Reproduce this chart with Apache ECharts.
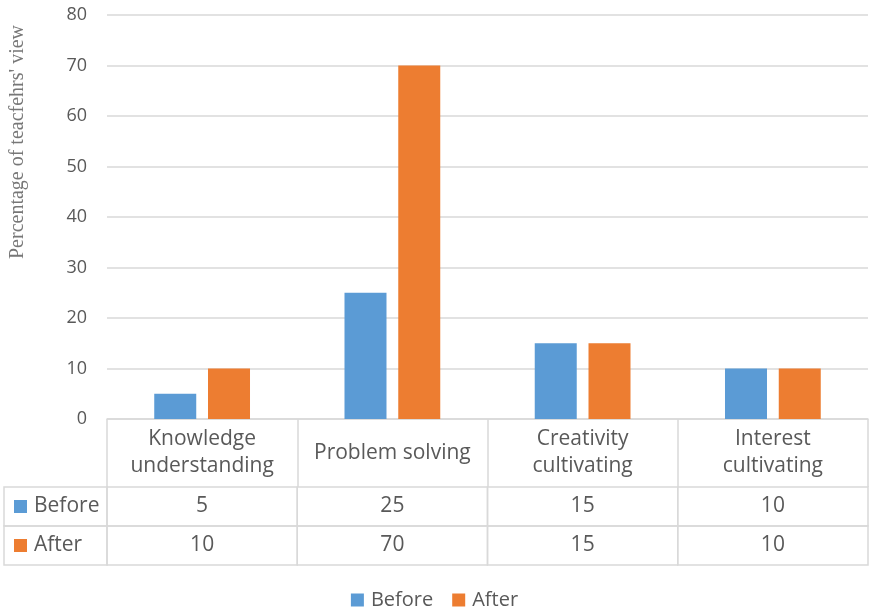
<!DOCTYPE html>
<html>
<head>
<meta charset="utf-8">
<script src="https://cdn.jsdelivr.net/npm/echarts@6/dist/echarts.min.js"></script>
<style>
  html, body { margin: 0; padding: 0; background: #fff; }
  #chart { width: 869px; height: 615px; }
</style>
</head>
<body>
<div id="chart"></div>
<script>
// Categories (header row of the data table)
const categories = [
  'Knowledge\nunderstanding',
  'Problem solving',
  'Creativity\ncultivating',
  'Interest\ncultivating'
];
// Series values
const seriesNames = ['Before', 'After'];
const beforeValues = [5, 25, 15, 10];
const afterValues = [10, 70, 15, 10];
// Value axis ticks
const yTicks = [0, 10, 20, 30, 40, 50, 60, 70, 80];
const yAxisTitle = "Percentage of teacfehrs' view";

const colors = ['#5b9bd5', '#ed7d31'];
const textColor = '#595959';
const lineColor = '#d9d9d9';
const font = 'Open Sans';
const tableFontSize = 21;

const seriesValues = [beforeValues, afterValues];

// Cells of the data table: [category index, row index, value]
const tableCells = [];
seriesValues.forEach((vals, r) => {
  vals.forEach((v, c) => tableCells.push([c, r, v]));
});

const chart = echarts.init(document.getElementById('chart'), null, { renderer: 'canvas' });

const option = {
  animation: false,
  backgroundColor: '#fff',
  textStyle: { fontFamily: font },
  legend: {
    data: seriesNames,
    bottom: 0,
    left: 'center',
    itemWidth: 13,
    itemHeight: 13,
    itemGap: 19,
    icon: 'rect',
    textStyle: { color: textColor, fontSize: 20, fontFamily: font, padding: [0, 0, 0, 2] }
  },
  grid: [
    { left: 107, right: 1, top: 15, bottom: 196 },
    { left: 107, right: 1, top: 487, height: 78 }
  ],
  xAxis: [
    {
      type: 'category',
      gridIndex: 0,
      data: categories,
      axisLine: { show: true, lineStyle: { color: lineColor, width: 1.5 } },
      axisTick: { show: true, length: 68, lineStyle: { color: lineColor, width: 1.5 } },
      axisLabel: {
        interval: 0,
        margin: 34,
        verticalAlign: 'middle',
        color: textColor,
        fontSize: tableFontSize,
        lineHeight: 27,
        fontFamily: font
      }
    },
    {
      type: 'category',
      gridIndex: 1,
      data: categories,
      show: false
    }
  ],
  yAxis: [
    {
      type: 'value',
      gridIndex: 0,
      min: yTicks[0],
      max: yTicks[yTicks.length - 1],
      interval: yTicks[1] - yTicks[0],
      axisLine: { show: false },
      axisTick: { show: false },
      axisLabel: { color: textColor, fontSize: 18, margin: 20, fontFamily: font },
      splitLine: { lineStyle: { color: lineColor, width: 1.5 } }
    },
    {
      type: 'category',
      gridIndex: 1,
      data: seriesNames,
      inverse: true,
      show: false
    }
  ],
  graphic: [
    {
      type: 'text',
      rotation: Math.PI / 2,
      x: 18,
      y: 142,
      style: {
        text: yAxisTitle,
        fill: '#777',
        font: '20px "Liberation Serif", "Times New Roman", serif',
        align: 'center',
        verticalAlign: 'middle'
      }
    }
  ],
  series: [
    {
      name: seriesNames[0],
      type: 'bar',
      xAxisIndex: 0,
      yAxisIndex: 0,
      data: beforeValues,
      barWidth: 42,
      barGap: '28%',
      itemStyle: { color: colors[0] }
    },
    {
      name: seriesNames[1],
      type: 'bar',
      xAxisIndex: 0,
      yAxisIndex: 0,
      data: afterValues,
      barWidth: 42,
      barGap: '28%',
      itemStyle: { color: colors[1] }
    },
    {
      // Data table rows under the axis
      name: 'table',
      type: 'custom',
      xAxisIndex: 1,
      yAxisIndex: 1,
      clip: false,
      silent: true,
      data: tableCells,
      renderItem: function (params, api) {
        const c = api.value(0);
        const r = api.value(1);
        const center = api.coord([c, r]);
        const size = api.size([1, 1]);
        const w = size[0], h = size[1];
        const x0 = center[0] - w / 2, y0 = center[1] - h / 2;
        const cellFont = tableFontSize + 'px "' + font + '"';
        const children = [
          {
            type: 'rect',
            shape: { x: x0, y: y0, width: w, height: h },
            style: { fill: 'none', stroke: lineColor, lineWidth: 1.5 }
          },
          {
            type: 'text',
            style: {
              x: center[0], y: center[1],
              text: String(api.value(2)),
              fill: textColor,
              font: cellFont,
              align: 'center',
              verticalAlign: 'middle'
            }
          }
        ];
        if (c === 0) {
          // Row header: legend key + series name
          const leftEdge = 4;
          children.push(
            {
              type: 'rect',
              shape: { x: leftEdge, y: y0, width: x0 - leftEdge, height: h },
              style: { fill: 'none', stroke: lineColor, lineWidth: 1.5 }
            },
            {
              type: 'rect',
              shape: { x: leftEdge + 10, y: center[1] - 6.5, width: 13, height: 13 },
              style: { fill: colors[r] }
            },
            {
              type: 'text',
              style: {
                x: leftEdge + 30, y: center[1],
                text: seriesNames[r],
                fill: textColor,
                font: cellFont,
                align: 'left',
                verticalAlign: 'middle'
              }
            }
          );
        }
        return { type: 'group', children: children };
      }
    }
  ]
};

chart.setOption(option);
</script>
</body>
</html>
